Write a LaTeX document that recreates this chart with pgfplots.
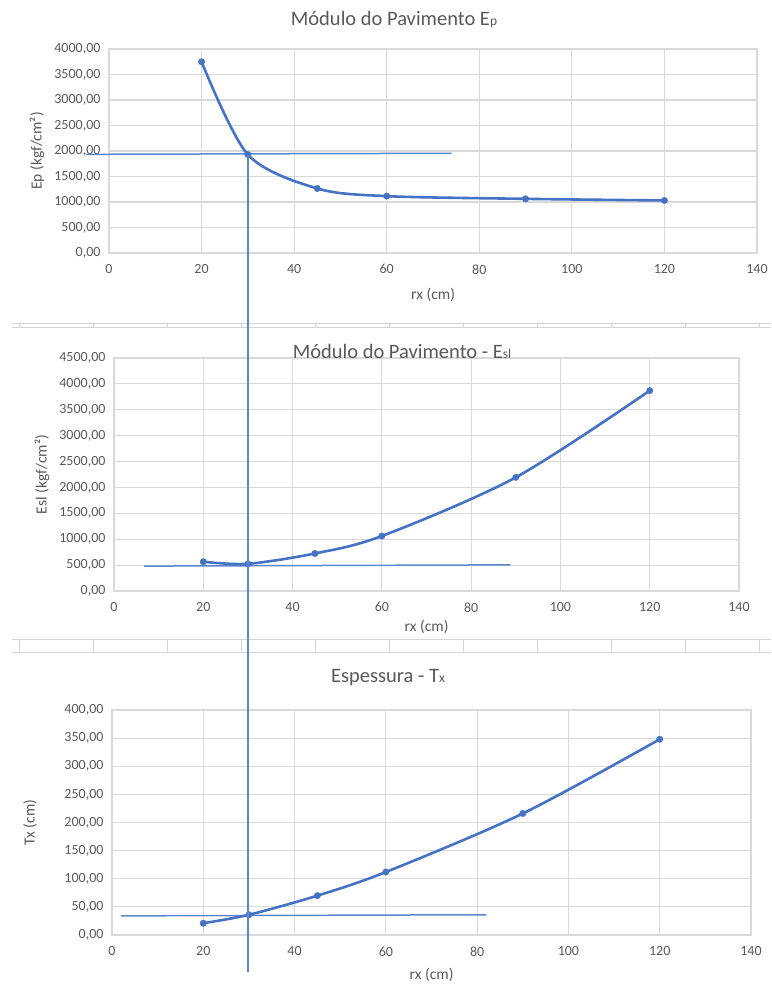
\documentclass[border=0pt]{standalone}
\usepackage{fontspec}
\setmainfont{Carlito}
\usepackage{pgfplots}
\pgfplotsset{compat=1.18}
\definecolor{xlblue}{RGB}{68,114,196}
\definecolor{refblue}{RGB}{92,135,205}
\definecolor{gridgray}{RGB}{217,217,217}
\definecolor{txtgray}{RGB}{89,89,89}
\definecolor{cellgray}{RGB}{212,212,212}

\pgfplotsset{xlstyle/.style={
  scale only axis,
  xmin=0, xmax=140, xtick={0,20,...,140},
  ymin=0,
  grid=major,
  grid style={gridgray, line width=1.1pt},
  axis line style={gridgray, line width=1.1pt},
  major tick length=0pt,
  tick label style={font=\fontsize{14}{16}\selectfont, text=txtgray},
  /pgf/number format/assume math mode=true,
  yticklabel style={/pgf/number format/fixed, /pgf/number format/fixed zerofill,
     /pgf/number format/precision=2, /pgf/number format/use comma,
     /pgf/number format/1000 sep={}, xshift=-5pt},
  xticklabel style={/pgf/number format/fixed, /pgf/number format/precision=0, yshift=-8pt},
  label style={font=\fontsize{15.5}{17}\selectfont, text=txtgray},
  clip=false,
},
curve/.style={xlblue, line width=2.6pt, smooth, mark=*, mark size=3.2pt, mark options={solid, fill=xlblue, draw=xlblue, line width=0.4pt}},
refline/.style={refblue, line width=1.5pt, mark=none},
}

\begin{document}
\begin{tikzpicture}
\path[use as bounding box] (0pt,0pt) rectangle (771pt,-990pt);

% spreadsheet cell borders between the charts
\begin{scope}[cellgray, line width=0.9pt]
\draw (12pt,-323pt) -- (771pt,-323pt);
\draw (12pt,-327pt) -- (771pt,-327pt);
\foreach \cx in {19,93,167,241,315,389,463,537,611,685,759} {\draw (\cx pt,-323pt) -- (\cx pt,-327pt);}
\draw (12pt,-639pt) -- (771pt,-639pt);
\draw (12pt,-652pt) -- (771pt,-652pt);
\foreach \cx in {19,93,167,241,315,389,463,537,611,685,759} {\draw (\cx pt,-639pt) -- (\cx pt,-652pt);}
\end{scope}

% ---------- Chart 1 ----------
\node[text=txtgray, font=\fontsize{20.5}{22}\selectfont] at (394pt,-19pt) {Módulo do Pavimento E{\fontsize{13.5}{14}\selectfont p}};
\begin{axis}[xlstyle,
  at={(109pt,-253pt)}, anchor=south west,
  width=648pt, height=204pt,
  ymax=4000, ytick={0,500,...,4000},
  xlabel={rx (cm)},
  xlabel style={at={([yshift=-42pt]axis description cs:0.5,0)}, anchor=center},
  ylabel={Ep (kgf/cm²)},
  ylabel style={at={([xshift=-72pt]axis description cs:0,0.5)}, anchor=center},
]
\addplot[refline] coordinates {(-5,1935) (74,1955)};
\addplot[curve] coordinates {(20,3750) (30,1930) (45,1265) (60,1115) (90,1062) (120,1030)};
\coordinate (vtop) at (axis cs:30,1930);
\end{axis}

% ---------- Chart 2 ----------
\begin{axis}[xlstyle,
  at={(114pt,-591pt)}, anchor=south west,
  width=625pt, height=233pt,
  ymax=4500, ytick={0,500,...,4500},
  xlabel={rx (cm)},
  xlabel style={at={([yshift=-36pt]axis description cs:0.5,0)}, anchor=center},
  ylabel={Esl (kgf/cm²)},
  ylabel style={at={([xshift=-72pt]axis description cs:0,0.5)}, anchor=center},
]
\addplot[refline] coordinates {(6.7,481) (88.8,505)};
\addplot[curve] coordinates {(20,565) (30,525) (45,725) (60,1062) (90,2195) (120,3870)};
\end{axis}
\node[text=txtgray, font=\fontsize{20.5}{22}\selectfont] at (402pt,-351pt) {Módulo do Pavimento - E{\fontsize{13.5}{14}\selectfont sl}};

% ---------- Chart 3 ----------
\node[text=txtgray, font=\fontsize{20.5}{22}\selectfont] at (388pt,-678pt) {Espessura - T{\fontsize{13.5}{14}\selectfont x}};
\begin{axis}[xlstyle,
  at={(112pt,-935pt)}, anchor=south west,
  width=639pt, height=225pt,
  ymax=400, ytick={0,50,...,400},
  xlabel={rx (cm)},
  xlabel style={at={([yshift=-40pt]axis description cs:0.5,0)}, anchor=center},
  ylabel={Tx (cm)},
  ylabel style={at={([xshift=-82pt]axis description cs:0,0.5)}, anchor=center},
]
\addplot[refline] coordinates {(2,34) (82,36)};
\addplot[curve] coordinates {(20,21) (30,36) (45,70) (60,112) (90,216) (120,348)};
\coordinate (vbot) at (axis cs:30,-66);
\end{axis}

\draw[refblue, line width=1.5pt] (vtop) -- (vtop |- vbot);
\end{tikzpicture}
\end{document}
